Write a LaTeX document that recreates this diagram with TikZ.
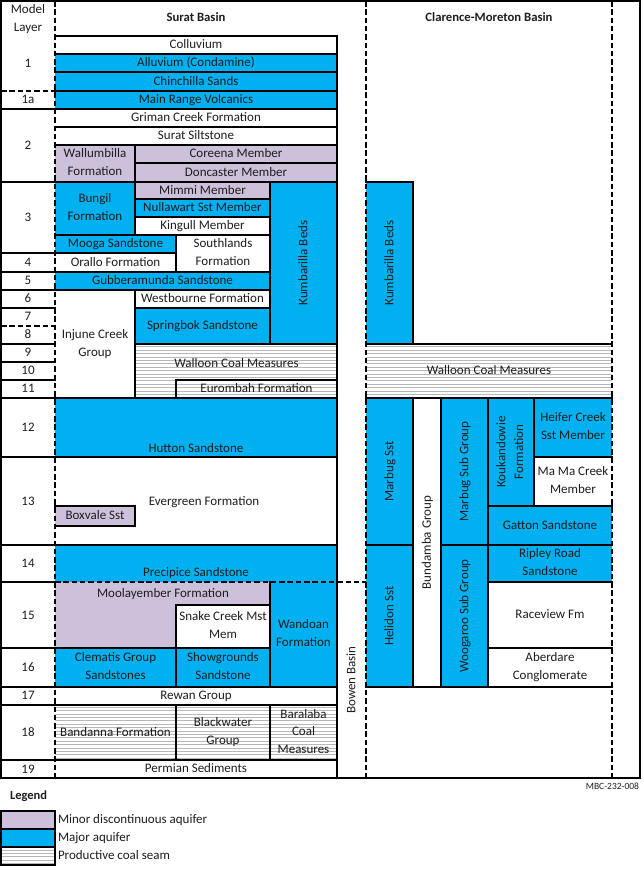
\documentclass[tikz,border=0pt]{standalone}
\usepackage{fontspec}
\setmainfont{Carlito}
\definecolor{mblue}{HTML}{00B0F0}
\definecolor{mlav}{HTML}{CCC0DA}
\definecolor{txt}{HTML}{1E1E1E}
\pgfdeclarelayer{back}
\pgfdeclarelayer{fg}
\pgfsetlayers{back,main,fg}
\newcommand\fs{\fontsize{13}{17.6}\selectfont}
\newcommand\lstrut{\rule[-2.5pt]{0pt}{12.7pt}}
\newcommand\eT{\draw[bl] (\cur.north west) -- (\cur.north east);}
\newcommand\eB{\draw[bl] (\cur.south west) -- (\cur.south east);}
\newcommand\eL{\draw[bl] (\cur.north west) -- (\cur.south west);}
\newcommand\eR{\draw[bl] (\cur.north east) -- (\cur.south east);}
\newcommand\eF{\draw[bl] (\cur.north west) rectangle (\cur.south east);}
% box: style, name, x1, y1, x2, y2, text, edges
\newcommand\bx[8]{%
  \pgfmathsetmacro\bxw{#5-#3}\pgfmathsetmacro\bxh{#6-#4}%
  \node[#1, minimum width=\bxw pt, minimum height=\bxh pt] (#2) at (#3,#4) {#7};%
  \def\cur{#2}%
  \begin{pgfonlayer}{fg}#8\end{pgfonlayer}%
}
% rotated-text box
\newcommand\rbx[8]{%
  \bx{#1}{#2}{#3}{#4}{#5}{#6}{}{#8}%
  \node[tx, rotate=90] (#2-t) at (#2.center) {#7};%
}
\newcommand\hatch[4]{%
  \begin{pgfonlayer}{back}%
  \fill[white] (#1,#2) rectangle (#3,#4);%
  \pgfmathsetmacro\hs{3.4*ceil(#2/3.4)}\pgfmathsetmacro\hn{\hs+3.4}%
  \foreach \yy in {\hs,\hn,...,#4}{\draw[hl] (#1,\yy) -- (#3,\yy);}%
  \end{pgfonlayer}}
\tikzset{
  bl/.style={line width=2pt, line cap=rect, black},
  dl/.style={line width=2pt, dash pattern=on 5.5pt off 2.8pt, black},
  hl/.style={line width=0.8pt, black!28},
  tx/.style={inner sep=0pt, outer sep=0pt, align=center, font=\fs, text=txt,
    execute at begin node=\lstrut, execute at end node=\lstrut},
  bxs/.style={tx, anchor=north west},
  blu/.style={bxs, fill=mblue},
  lav/.style={bxs, fill=mlav},
  wht/.style={bxs, fill=white},
  hat/.style={bxs},
}
\begin{document}
\begin{tikzpicture}[x=1pt,y=-1pt]
\useasboundingbox (0,0) rectangle (643,873);
\begin{pgfonlayer}{back}
\fill[white] (0,0) rectangle (643,873);
\end{pgfonlayer}

% headers
\node[tx] (mlh) at (28,19.5) {Model\\Layer};
\node[tx, font=\fontsize{12.7}{15}\selectfont\bfseries] (surath) at (196,18) {Surat Basin};
\node[tx, font=\fontsize{12.7}{15}\selectfont\bfseries] (cmh) at (489,18) {Clarence-Moreton Basin};

% ---------------- Surat Basin ----------------
\bx{wht}{s-coll}{55}{36}{337}{54}{Colluvium}{\eT\eR\eB}
\bx{blu}{s-allu}{55}{54}{337}{72}{Alluvium (Condamine)}{\eT\eR\eB}
\bx{blu}{s-chin}{55}{72}{337}{91}{Chinchilla Sands}{\eT\eR\eB}
\bx{blu}{s-mrv}{55}{91}{337}{109}{Main Range Volcanics}{\eT\eR\eB}
\bx{wht}{s-grim}{55}{109}{337}{127}{Griman Creek Formation}{\eT\eR\eB}
\bx{wht}{s-sil}{55}{127}{337}{145}{Surat Siltstone}{\eT\eR\eB}
\bx{lav}{s-wal}{55}{145}{135}{182}{Wallumbilla\\Formation}{\eT\eR\eB}
\bx{lav}{s-cor}{135}{145}{337}{163}{Coreena Member}{\eF}
\bx{lav}{s-don}{135}{163}{337}{182}{Doncaster Member}{\eF}
\bx{blu}{s-bun}{55}{182}{135}{235}{Bungil\\Formation}{\eT\eR\eB}
\bx{lav}{s-mim}{135}{182}{270}{199}{Mimmi Member}{\eF}
\bx{blu}{s-nul}{135}{199}{270}{217}{Nullawart Sst Member}{\eF}
\bx{wht}{s-kin}{135}{217}{270}{235}{Kingull Member}{\eF}
\rbx{blu}{s-kum}{270}{182}{337}{344}{Kumbarilla Beds}{\eF}
\bx{blu}{s-moo}{55}{235}{176}{253}{Mooga Sandstone}{\eT\eR\eB}
\bx{wht}{s-sth}{176}{235}{270}{272}{Southlands\\Formation}{\eF}
\bx{wht}{s-ora}{55}{253}{176}{272}{Orallo Formation}{\eT\eR\eB}
\bx{blu}{s-gub}{55}{272}{270}{290}{Gubberamunda Sandstone}{\eT\eR\eB}
\bx{wht}{s-inj}{55}{290}{135}{398}{Injune Creek\\Group}{\eT\eR\eB}
\bx{wht}{s-wes}{135}{290}{270}{308}{Westbourne Formation}{\eF}
\bx{blu}{s-spr}{135}{308}{270}{344}{Springbok Sandstone}{\eF}
\hatch{135}{344}{337}{398}
\bx{hat}{s-wcm}{135}{344}{337}{398}{}{\eF}
\node[tx, anchor=base] (s-wcm-t) at (236.5,367.3) {Walloon Coal Measures};
\bx{hat}{s-eur}{176}{380}{337}{398}{Eurombah Formation}{\eF}
\bx{blu}{s-hut}{55}{398}{337}{457}{}{\eT\eR\eB}
\node[tx, anchor=base] (s-hut-t) at (196,452.8) {Hutton Sandstone};
\bx{wht}{s-eve}{55}{457}{337}{545}{}{\eT\eR\eB}
\node[tx, anchor=base] (s-eve-t) at (204,505.7) {Evergreen Formation};
\bx{lav}{s-box}{55}{506}{135}{526}{Boxvale Sst}{\eT\eR\eB}
\bx{blu}{s-pre}{55}{545}{337}{582}{}{\eT\eR}
\node[tx, anchor=base] (s-pre-t) at (196,576.7) {Precipice Sandstone};
\fill[mlav] (55,582) -- (270,582) -- (270,605) -- (176,605) -- (176,648) -- (55,648) -- cycle;
\node[tx, anchor=base] (s-mool-t) at (163,597.7) {Moolayember Formation};
\bx{wht}{s-sna}{176}{605}{270}{648}{Snake Creek Mst\\Mem}{\eF}
\bx{blu}{s-wan}{270}{582}{337}{687}{Wandoan\\Formation}{\eL\eR\eB}
\bx{blu}{s-cle}{55}{648}{176}{687}{Clematis Group\\Sandstones}{\eT\eR\eB}
\bx{blu}{s-sho}{176}{648}{270}{687}{Showgrounds\\Sandstone}{\eF}
\bx{wht}{s-rew}{55}{687}{337}{705}{Rewan Group}{\eT\eR\eB}
\hatch{55}{705}{337}{760}
\bx{hat}{s-ban}{55}{705}{176}{760}{Bandanna Formation}{\eT\eR\eB}
\bx{hat}{s-bla}{176}{705}{270}{760}{Blackwater\\Group}{\eF}
\bx{hat}{s-bar}{270}{705}{337}{760}{Baralaba\\Coal\\Measures}{\eF}
\bx{wht}{s-per}{55}{760}{337}{778}{Permian Sediments}{\eT\eR\eB}

\node[tx, rotate=90] (bowen) at (351.5,680) {Bowen Basin};

% ---------------- Clarence-Moreton Basin ----------------
\rbx{blu}{c-kum}{366}{182}{413}{344}{Kumbarilla Beds}{\eT\eR\eB}
\hatch{366}{344}{612}{398}
\bx{hat}{c-wcm}{366}{344}{612}{398}{Walloon Coal Measures}{\eT\eB}
\rbx{blu}{c-mar}{366}{398}{413}{545}{Marbug Sst}{\eT\eR\eB}
\rbx{blu}{c-hel}{366}{545}{413}{687}{Helidon Sst}{\eT\eR\eB}
\rbx{wht}{c-bun}{413}{398}{441}{687}{Bundamba Group}{\eF}
\rbx{blu}{c-msg}{441}{398}{488}{545}{Marbug Sub Group}{\eF}
\rbx{blu}{c-wsg}{441}{545}{488}{687}{Woogaroo Sub Group}{\eF}
\rbx{blu}{c-kou}{488}{398}{534}{506}{Koukandowie\\Formation}{\eF}
\bx{blu}{c-hei}{534}{398}{612}{457}{Heifer Creek\\Sst Member}{\eT\eL\eB}
\bx{wht}{c-mam}{534}{457}{612}{506}{Ma Ma Creek\\Member}{\eT\eL\eB}
\bx{blu}{c-gat}{488}{506}{612}{545}{Gatton Sandstone}{\eT\eL\eB}
\bx{blu}{c-rip}{488}{545}{612}{582}{Ripley Road\\Sandstone}{\eT\eL\eB}
\bx{wht}{c-rac}{488}{582}{612}{648}{Raceview Fm}{\eT\eL\eB}
\bx{wht}{c-abe}{488}{648}{612}{687}{Aberdare\\Conglomerate}{\eT\eL\eB}

% ---------------- model layer column ----------------
\foreach \n/\yy in {1/63.5,1a/100,2/145.5,3/217.5,4/262.5,5/281,6/299,7/317,8/335,9/353,10/371,11/389,12/428,13/501.5,14/563.5,15/615.5,16/668,17/696,18/733,19/769.5}
  \node[tx] (ml-\n) at (28,\yy) {\n};

\begin{pgfonlayer}{fg}
\foreach \yy in {109,182,253,272,290,308,344,362,380,398,457,545,582,648,687,705,760}
  \draw[bl] (1,\yy) -- (55,\yy);
\draw[dl] (1,91) -- (55,91);
\draw[dl] (1,326) -- (55,326);
\draw[dl] (55,1) -- (55,778);
\draw[dl] (366,1) -- (366,778);
\draw[dl] (612,1) -- (612,778);
\draw[dl] (55,582) -- (366,582);
\draw[line width=2.5pt] (1,1) rectangle (640,778);
\end{pgfonlayer}

% ---------------- legend ----------------
\node[tx, anchor=west, font=\fontsize{12.5}{15}\selectfont\bfseries] (legend) at (10,796) {Legend};
\bx{lav}{l-min}{1}{811}{55}{829}{}{\eF}
\bx{blu}{l-maj}{1}{829}{55}{847}{}{\eF}
\hatch{1}{847}{55}{865}
\bx{hat}{l-coal}{1}{847}{55}{865}{}{\eF}
\node[tx, anchor=west] (l-min-t) at (58,820) {Minor discontinuous aquifer};
\node[tx, anchor=west] (l-maj-t) at (58,838) {Major aquifer};
\node[tx, anchor=west] (l-coal-t) at (58,856) {Productive coal seam};
\node[tx, anchor=east, font=\fontsize{9.5}{11}\selectfont] (code) at (639,786) {MBC-232-008};
\end{tikzpicture}
\end{document}
